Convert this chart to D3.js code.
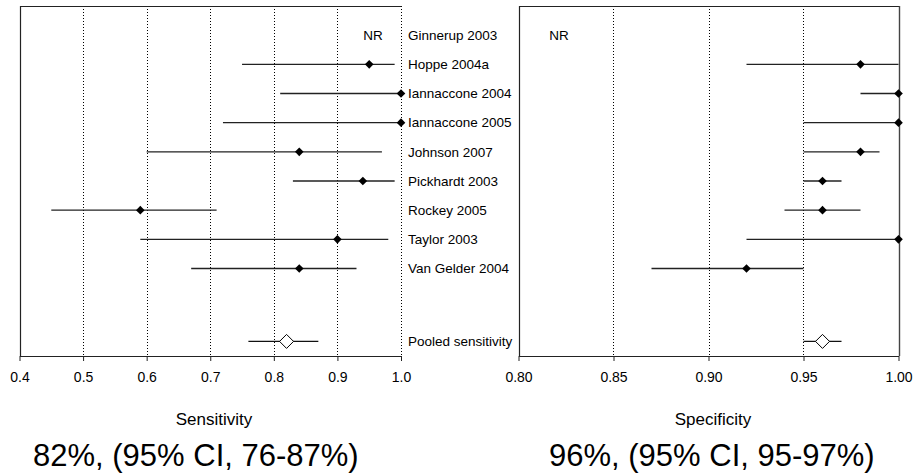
<!DOCTYPE html>
<html>
<head>
<meta charset="utf-8">
<script src="https://cdn.jsdelivr.net/npm/d3@7"></script>
<style>
  html, body { margin: 0; padding: 0; background: #fff; }
  svg { display: block; font-family: "Liberation Sans", Arial, sans-serif; }
</style>
</head>
<body>
<svg id="chart" width="914" height="476"></svg>
<script>
// ---- data ----
const studies = ["Ginnerup 2003", "Hoppe 2004a", "Iannaccone 2004", "Iannaccone 2005",
  "Johnson 2007", "Pickhardt 2003", "Rockey 2005", "Taylor 2003", "Van Gelder 2004"];
const sensEst  = [null, 0.95, 1.00, 1.00, 0.84, 0.94, 0.59, 0.90, 0.84];
const sensLow  = [null, 0.75, 0.81, 0.72, 0.60, 0.83, 0.45, 0.59, 0.67];
const sensHigh = [null, 0.99, 1.00, 1.00, 0.97, 0.99, 0.71, 0.98, 0.93];
const specEst  = [null, 0.98, 1.00, 1.00, 0.98, 0.96, 0.96, 1.00, 0.92];
const specLow  = [null, 0.92, 0.98, 0.95, 0.95, 0.95, 0.94, 0.92, 0.87];
const specHigh = [null, 1.00, 1.00, 1.00, 0.99, 0.97, 0.98, 1.00, 0.95];
const pooledLabel = "Pooled sensitivity";
const pooledSens = [0.82, 0.76, 0.87];   // estimate, low, high
const pooledSpec = [0.96, 0.95, 0.97];
const sensTicks = [0.4, 0.5, 0.6, 0.7, 0.8, 0.9, 1.0];
const specTicks = [0.80, 0.85, 0.90, 0.95, 1.00];
const sensTitle = "Sensitivity";
const specTitle = "Specificity";
const sensSummary = "82%, (95% CI, 76-87%)";
const specSummary = "96%, (95% CI, 95-97%)";
const missingText = "NR";

// ---- layout ----
const svg = d3.select("#chart");
const yTop = 6, yBottom = 356;
const y = d3.scaleLinear().domain([0, 12]).range([yTop, yBottom]);
const rowPos = i => i + 1;
const pooledPos = 11.5;

const font = "'Liberation Sans', Arial, sans-serif";

function panel(cfg) {
  const x = d3.scaleLinear().domain(cfg.domain).range(cfg.range);
  const g = svg.append("g");

  // dotted gridlines
  g.selectAll("line.grid").data(cfg.grid).join("line")
    .attr("x1", d => Math.round(x(d)) + 0.5).attr("x2", d => Math.round(x(d)) + 0.5)
    .attr("y1", yTop).attr("y2", yBottom)
    .attr("stroke", "#000").attr("stroke-width", 1).attr("stroke-dasharray", "1,2");

  // borders
  const xl = Math.round(x(cfg.domain[0])) + 0.5, xr = Math.round(x(cfg.domain[1])) + 0.5;
  g.append("line").attr("x1", xl).attr("x2", xr).attr("y1", yTop + 0.5).attr("y2", yTop + 0.5)
    .attr("stroke", "#222").attr("stroke-width", 1.2);
  g.append("line").attr("x1", xl).attr("x2", xl).attr("y1", yTop).attr("y2", yBottom)
    .attr("stroke", "#222").attr("stroke-width", 1.2);
  if (cfg.solidRight) {
    g.append("line").attr("x1", xr).attr("x2", xr).attr("y1", yTop).attr("y2", yBottom)
      .attr("stroke", "#444").attr("stroke-width", 1.4);
  }

  // axis
  const axis = d3.axisBottom(x).tickValues(cfg.ticks).tickFormat(d3.format(cfg.fmt))
    .tickSize(5).tickSizeOuter(0).tickPadding(11);
  const ag = g.append("g").attr("transform", `translate(0,${yBottom})`).call(axis);
  ag.select(".domain").attr("stroke", "#222").attr("stroke-width", 1.2);
  ag.selectAll(".tick line").attr("stroke", "#222");
  ag.selectAll("text").attr("font-family", font).attr("font-size", 14).attr("fill", "#000");

  // data rows
  const rows = studies.map((s, i) => ({ i, est: cfg.est[i], lo: cfg.low[i], hi: cfg.high[i] }));
  const valid = rows.filter(r => r.est != null);
  g.selectAll("line.ci").data(valid).join("line")
    .attr("x1", d => x(d.lo)).attr("x2", d => x(d.hi))
    .attr("y1", d => y(rowPos(d.i))).attr("y2", d => y(rowPos(d.i)))
    .attr("stroke", "#222").attr("stroke-width", 1.3);
  const dsz = 4.3;
  g.selectAll("path.pt").data(valid).join("path")
    .attr("d", d => {
      const cx = x(d.est), cy = y(rowPos(d.i));
      return `M${cx},${cy - dsz}L${cx + dsz},${cy}L${cx},${cy + dsz}L${cx - dsz},${cy}Z`;
    })
    .attr("fill", "#000");

  // NR text
  rows.filter(r => r.est == null).forEach(r => {
    g.append("text").attr("x", cfg.nrX).attr("y", y(rowPos(r.i)))
      .attr("dy", "0.35em").attr("text-anchor", "middle")
      .attr("font-family", font).attr("font-size", 13.5).text(missingText);
  });

  // pooled
  const py = y(pooledPos);
  g.append("line").attr("x1", x(cfg.pooled[1])).attr("x2", x(cfg.pooled[2]))
    .attr("y1", py).attr("y2", py).attr("stroke", "#111").attr("stroke-width", 1.3);
  const pc = x(cfg.pooled[0]), ps = 7;
  g.append("path")
    .attr("d", `M${pc},${py - ps}L${pc + ps},${py}L${pc},${py + ps}L${pc - ps},${py}Z`)
    .attr("fill", "#fff").attr("stroke", "#000").attr("stroke-width", 1);

  // titles
  g.append("text").attr("x", cfg.titleX).attr("y", 425).attr("text-anchor", "middle")
    .attr("font-family", font).attr("font-size", 17).text(cfg.title);
  g.append("text").attr("x", cfg.sumX).attr("y", 466).attr("text-anchor", "start")
    .attr("font-family", font).attr("font-size", 31).text(cfg.summary);
}

panel({
  domain: [0.4, 1.0], range: [19.5, 401], grid: [0.5, 0.6, 0.7, 0.8, 0.9, 1.0],
  ticks: sensTicks, fmt: ".1f", est: sensEst, low: sensLow, high: sensHigh,
  pooled: pooledSens, nrX: 373, title: sensTitle, titleX: 214,
  summary: sensSummary, sumX: 33, solidRight: false
});
panel({
  domain: [0.8, 1.0], range: [518.5, 898.5], grid: [0.85, 0.90, 0.95],
  ticks: specTicks, fmt: ".2f", est: specEst, low: specLow, high: specHigh,
  pooled: pooledSpec, nrX: 559, title: specTitle, titleX: 713,
  summary: specSummary, sumX: 549, solidRight: true
});

// study labels
svg.append("g").selectAll("text").data(studies.concat([pooledLabel])).join("text")
  .attr("x", 408)
  .attr("y", (d, i) => y(i < studies.length ? rowPos(i) : pooledPos))
  .attr("dy", "0.35em")
  .attr("font-family", font).attr("font-size", 13.5).attr("fill", "#000")
  .text(d => d);
</script>
</body>
</html>
